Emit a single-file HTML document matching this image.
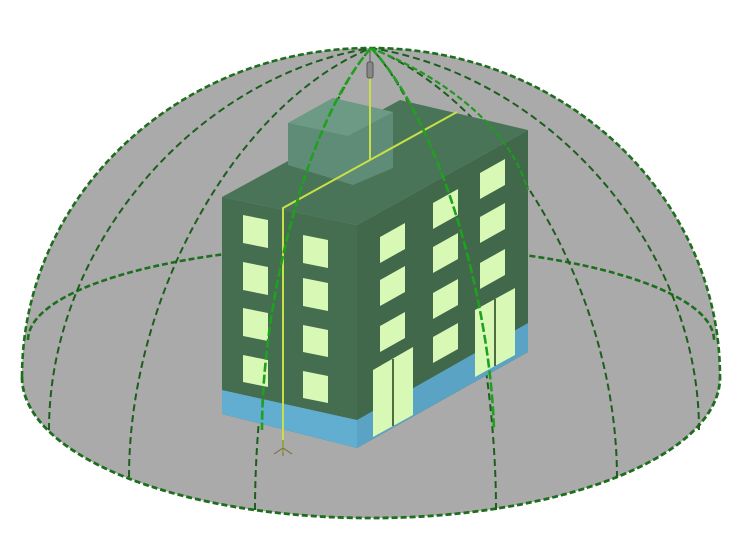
<!DOCTYPE html>
<html><head><meta charset="utf-8"><style>
html,body{margin:0;padding:0;background:#fff;width:752px;height:550px;overflow:hidden}
</style></head><body>
<svg width="752" height="550" viewBox="0 0 752 550" xmlns="http://www.w3.org/2000/svg">
<path d="M22,377 C22,196 178,48 371,48 C564,48 720,196 720,377 A349,141 0 0 1 22,377 Z" fill="#aaaaaa"/>
<g fill="none" stroke="#1d6e1d" stroke-width="2.6" stroke-dasharray="6 3">
<path d="M22,377 C22,196 178,48 371,48 C564,48 720,196 720,377"/>
<path d="M22,377 A349,141 0 0 0 720,377" stroke-width="2.8"/>
<path d="M28,340 A343,95 0 0 1 714,340"/>
</g>
<g fill="none" stroke="#1d5e1d" stroke-width="2" stroke-dasharray="7 4">
<path d="M49,430 C49,248 193,77 371,48"/>
<path d="M129,477 C129,295 237,103 371,48"/>
<path d="M699,430 C699,248 552,77 371,48"/>
<path d="M617,478 C617,296 507,103 371,48"/>
<path d="M255,510 C255,330 307,121 371,48"/>
<path d="M496,510 C496,330 440,121 371,48"/>
</g>
<polygon points="222,197 357,225 357,448 222,414" fill="#456d4f"/>
<polygon points="357,225 528,130 528,352 357,448" fill="#41684b"/>
<polygon points="222,197 400,100 528,130 357,225" fill="#4a7458"/>
<polygon points="288,123 333,98 393,112 393,168 353,185 288,165" fill="#5f8c76"/>
<polygon points="288,123 333,98 393,112 348,136" fill="#6c9a84"/>
<polygon points="222,390 357,420 357,448 222,414" fill="#62aed0"/>
<polygon points="357,420 528,323 528,352 357,448" fill="#5aa3c4"/>
<g fill="#d8f9b6">
<polygon points="243,215 268,220 268,248 243,243"/>
<polygon points="243,262 268,267 268,295 243,290"/>
<polygon points="243,308 268,313 268,341 243,336"/>
<polygon points="243,355 268,360 268,387 243,382"/>
<polygon points="303,235 328,240 328,268 303,263"/>
<polygon points="303,278 328,283 328,311 303,306"/>
<polygon points="303,325 328,330 328,357 303,352"/>
<polygon points="303,371 328,376 328,403 303,398"/>
<polygon points="380,237 405,223 405,249 380,263"/>
<polygon points="380,280 405,266 405,292 380,306"/>
<polygon points="380,326 405,312 405,338 380,352"/>
<polygon points="433,203 458,189 458,215 433,229"/>
<polygon points="433,247 458,233 458,259 433,273"/>
<polygon points="433,293 458,279 458,305 433,319"/>
<polygon points="433,337 458,323 458,349 433,363"/>
<polygon points="480,173 505,159 505,185 480,199"/>
<polygon points="480,217 505,203 505,229 480,243"/>
<polygon points="480,263 505,249 505,275 480,289"/>
<polygon points="373,370 413,347 413,415 373,437"/>
<polygon points="475,310 515,288 515,355 475,377"/>
</g>
<g stroke="#4e6e40" stroke-width="2">
<line x1="393" y1="359" x2="393" y2="426"/>
<line x1="495" y1="299" x2="495" y2="366"/>
</g>
<g stroke="#c8e048" stroke-width="2" fill="none">
<polyline points="370,78 370,160"/>
<polyline points="457,112 283,208 283,452"/>
</g>
<rect x="367" y="62" width="6" height="16" rx="2" fill="#888" stroke="#555" stroke-width="1"/>
<line x1="370" y1="50" x2="370" y2="62" stroke="#555" stroke-width="1"/>
<g stroke="#7a7a4a" stroke-width="1.2" fill="none">
<line x1="283" y1="440" x2="283" y2="456"/>
<line x1="283" y1="448" x2="274" y2="454"/>
<line x1="283" y1="448" x2="292" y2="454"/>
</g>
<g fill="none" stroke="#1fa01f" stroke-width="2.6" stroke-dasharray="9 3">
<path d="M371,48 C307,121 262,300 262,430"/>
<path d="M371,48 C440,121 490,300 494,430"/>
</g>
<g fill="none" stroke="#1f9a1f" stroke-width="2.2" stroke-dasharray="6 3">
<path d="M371,48 C450,80 510,130 528,190"/>
</g>
</svg>
</body></html>
